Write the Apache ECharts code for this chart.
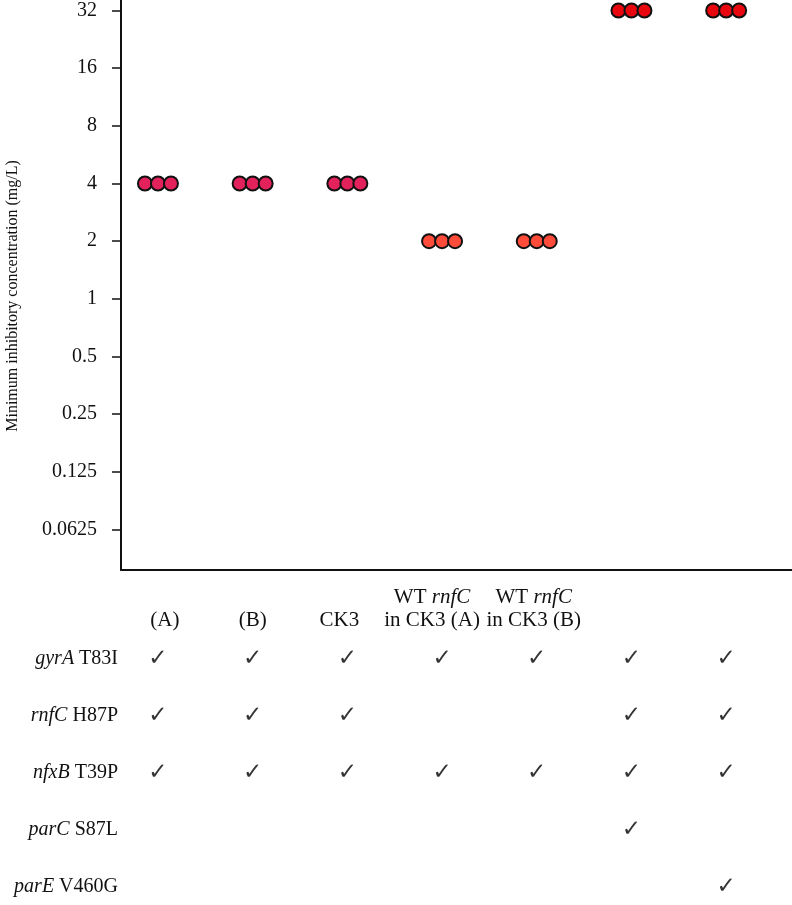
<!DOCTYPE html>
<html>
<head>
<meta charset="utf-8">
<script src="https://cdn.jsdelivr.net/npm/echarts@6.0.0/dist/echarts.min.js"></script>
<style>
html,body{margin:0;padding:0;background:#fff;}
#chart{width:792px;height:905px;}
</style>
</head>
<body>
<div id="chart"></div>
<script>
// ---- data ----
const strainLabels = ['(A)', '(B)', 'CK3', 'WT {i|rnfC}\nin CK3 (A)', 'WT {i|rnfC}\nin CK3 (B)', '', ''];
const micRep1 = [4, 4, 4, 2, 2, 32, 32];
const micRep2 = [4, 4, 4, 2, 2, 32, 32];
const micRep3 = [4, 4, 4, 2, 2, 32, 32];
const yTickValues = [0.0625, 0.125, 0.25, 0.5, 1, 2, 4, 8, 16, 32];
const yTickLabels = ['0.0625', '0.125', '0.25', '0.5', '1', '2', '4', '8', '16', '32'];
const yMinMic = 0.0384;
const yMaxMic = 36.3;
const genes = ['gyrA', 'rnfC', 'nfxB', 'parC', 'parE'];
const mutations = ['T83I', 'H87P', 'T39P', 'S87L', 'V460G'];
const gyrA = [1, 1, 1, 1, 1, 1, 1];
const rnfC = [1, 1, 1, 0, 0, 1, 1];
const nfxB = [1, 1, 1, 1, 1, 1, 1];
const parC = [0, 0, 0, 0, 0, 1, 0];
const parE = [0, 0, 0, 0, 0, 0, 1];

// ---- styles ----
const FONT = 'Liberation Serif';
const micColor = { 2: '#FF4B3A', 4: '#E3215B', 32: '#E8070F' };
const labelPadding = [[0, 0, 0, 14], [0, 0, 0, 0], [0, 16, 0, 0], [0, 20, 0, 0], [0, 6, 0, 0], [0, 0, 0, 0], [0, 0, 0, 0]];
const presence = [gyrA, rnfC, nfxB, parC, parE];
const catIds = strainLabels.map((_, i) => 'c' + i);
const geneIds = genes.map((_, i) => 'g' + i);

function repSeries(arr, off) {
  return {
    type: 'scatter', xAxisIndex: 1, yAxisIndex: 1,
    symbol: 'circle', symbolSize: 14, symbolOffset: [off, 0],
    silent: true,
    data: arr.map((v, i) => ({ value: [i, v], itemStyle: { color: micColor[v] } })),
    itemStyle: { borderColor: '#111', borderWidth: 2, opacity: 1 }
  };
}

const checkData = [];
presence.forEach((row, g) => row.forEach((p, c) => { if (p) checkData.push([c, g]); }));

const chart = echarts.init(document.getElementById('chart'), null, { renderer: 'canvas' });
chart.setOption({
  animation: false,
  backgroundColor: '#fff',
  textStyle: { fontFamily: FONT },
  grid: [
    { left: 121, right: 0, top: 0, bottom: 335, outerBoundsMode: 'none' },
    { left: 110.6, right: 18.5, top: 0, bottom: 335, outerBoundsMode: 'none' },
    { left: 110.6, right: 18.5, top: 659, bottom: 18, outerBoundsMode: 'none' }
  ],
  xAxis: [
    { type: 'value', gridIndex: 0, min: 0, max: 1,
      axisLine: { show: true, onZero: false, lineStyle: { color: '#111', width: 2 } },
      axisTick: { show: false }, axisLabel: { show: false }, splitLine: { show: false } },
    { type: 'category', gridIndex: 1, data: catIds, show: false },
    { type: 'category', gridIndex: 2, position: 'top',
      data: catIds.map((id, i) => ({ value: id, textStyle: { padding: labelPadding[i] } })),
      axisLine: { show: false }, axisTick: { show: false }, splitLine: { show: false },
      axisLabel: { show: true, interval: 0, margin: 27, fontSize: 21, lineHeight: 23,
        color: '#111', fontFamily: FONT, align: 'center',
        formatter: (v, idx) => strainLabels[idx],
        rich: { i: { fontStyle: 'italic', fontSize: 21, fontFamily: FONT, color: '#111', lineHeight: 23 } } } }
  ],
  yAxis: [
    { type: 'value', gridIndex: 0,
      min: Math.log2(yMinMic), max: Math.log2(yMaxMic),
      axisLine: { show: true, onZero: false, lineStyle: { color: '#111', width: 2 } },
      axisTick: { show: true, length: 9, customValues: yTickValues.map(v => Math.log2(v)),
        lineStyle: { color: '#111', width: 1.5 } },
      axisLabel: { show: true, customValues: yTickValues.map(v => Math.log2(v)),
        margin: 24, fontSize: 20, color: '#111', fontFamily: FONT,
        formatter: v => yTickLabels[yTickValues.findIndex(t => Math.abs(Math.log2(t) - v) < 1e-6)] },
      splitLine: { show: false },
      name: 'Minimum inhibitory concentration (mg/L)',
      nameLocation: 'middle', nameGap: 100, nameRotate: 90,
      nameTextStyle: { fontSize: 16, color: '#111', fontFamily: FONT, padding: [0, 22, 0, 0] } },
    { type: 'log', logBase: 2, gridIndex: 1, min: yMinMic, max: yMaxMic, show: false },
    { type: 'category', gridIndex: 2, data: geneIds, inverse: true, boundaryGap: false,
      offset: -7.4,
      axisLine: { show: false }, axisTick: { show: false }, splitLine: { show: false },
      axisLabel: { show: true, interval: 0, margin: 0, fontSize: 20, color: '#111', fontFamily: FONT,
        formatter: (v, idx) => '{i|' + genes[idx] + '} ' + mutations[idx],
        rich: { i: { fontStyle: 'italic', fontSize: 20, fontFamily: FONT, color: '#111' } } } }
  ],
  series: [
    repSeries(micRep1, -13),
    repSeries(micRep2, 0),
    repSeries(micRep3, 13),
    { type: 'scatter', xAxisIndex: 2, yAxisIndex: 2, symbolSize: 1, silent: true,
      itemStyle: { color: 'rgba(0,0,0,0)' },
      data: checkData,
      label: { show: true, position: 'inside', formatter: '\u2713', fontSize: 23,
        color: '#000', fontFamily: 'DejaVu Sans' } }
  ]
});
</script>
</body>
</html>
